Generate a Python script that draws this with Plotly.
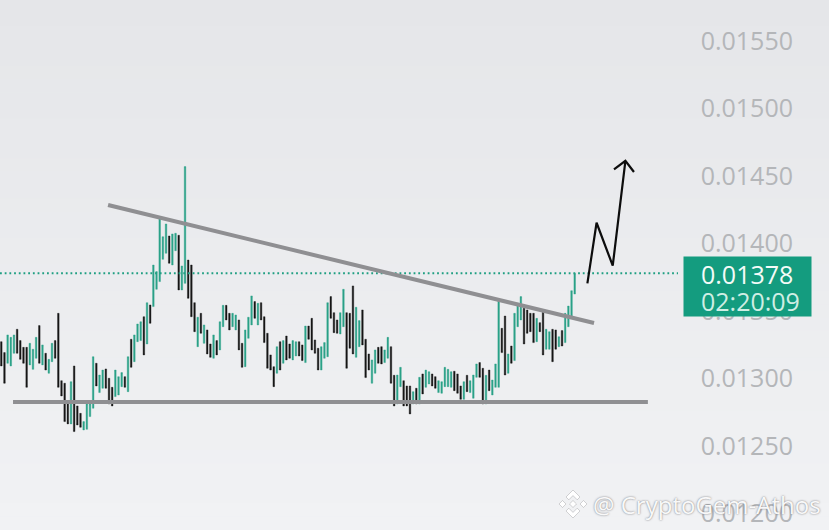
import plotly.graph_objects as go

# ==========================================
# 1. DATA (in millionths of a price unit)
# ==========================================

bar_high = [
    13273, 13192, 13323, 13305, 13323, 13365, 13281, 13231, 13231, 13261,
    13217, 13305, 13392, 13249, 13187, 13142, 13261, 13281, 13483, 12984,
    12965, 12836, 12977, 13093, 12797, 12742, 12681, 12812, 12812, 13162,
    13113, 13026, 13063, 13071, 13002, 12935, 13063, 13014, 13044, 13014,
    13162, 13291, 13323, 13404, 13421, 13458, 13562, 13545, 13841, 13792,
    14187, 14051, 14145, 14056, 14071, 14076, 14061, 13834, 14570, 13878,
    13841, 13562, 13454, 13483, 13397, 13360, 13256, 13323, 13281, 13421,
    13542, 13542, 13483, 13483, 13471, 13434, 13261, 13360, 13454, 13612,
    13570, 13557, 13562, 13458, 13335, 13175, 13088, 13236,
    13273, 13281, 13315, 13256, 13281, 13273, 13273, 13249, 13389, 13389,
    13446, 13286, 13224, 13236, 13266, 13562, 13607, 13488, 13434, 13488,
    13661, 13488, 13483, 13686, 13528, 13429, 13508, 13291, 13182, 13138,
    13212, 13231, 13236, 13212, 13305, 13236, 13024, 13026, 13083, 12984,
    12945, 12945, 12903, 12928, 13009, 13034, 13063, 13051, 13034, 13014,
    12984, 12977, 13083, 13068, 13051, 13054, 13034, 12945, 12977, 13024,
    12984, 13026, 13108, 13118, 13076, 13024, 13063, 12989, 13108, 13587,
    13372, 13463, 13182, 13241, 13483, 13557, 13607, 13520, 13508, 13483,
    13483, 13446, 13414, 13491, 13365, 13347, 13365, 13360, 13310,
    13355, 13483, 13537, 13651, 13780,
]
bar_low = [
    13093, 12965, 13113, 13093, 13187, 13187, 13142, 13113, 12935, 13101,
    13068, 13150, 13113, 13101, 13063, 13039, 13125, 13150, 12935, 12871,
    12681, 12664, 12664, 12607, 12656, 12639, 12619, 12624, 12718, 12780,
    12945, 12896, 12928, 12928, 12812, 12797, 12866, 12878, 12940, 12935,
    12903, 13083, 13125, 13273, 13281, 13175, 13256, 13409, 13533, 13661,
    13718, 13883, 13928, 13854, 13841, 13947, 13656, 13656, 13705, 13594,
    13458, 13347, 13236, 13335, 13261, 13182, 13157, 13150, 13175, 13212,
    13384, 13434, 13360, 13384, 13360, 13212, 13083, 13088, 13298, 13397,
    13446, 13397, 13434, 13266, 13076, 13063, 12940, 13039,
    13063, 13113, 13138, 13150, 13138, 13167, 13167, 13133, 13118, 13291,
    13212, 13187, 13063, 13063, 13150, 13162, 13446, 13340, 13335, 13330,
    13384, 13076, 13224, 13182, 13157, 13236, 13249, 13007, 13063, 12965,
    13039, 13113, 13108, 13118, 13150, 12965, 12797, 12812, 12940, 12797,
    12797, 12738, 12812, 12812, 12812, 12886, 12935, 12960, 12945, 12928,
    12896, 12891, 12940, 12940, 12935, 12910, 12891, 12846, 12846, 12903,
    12896, 12854, 13009, 13009, 12812, 12812, 12910, 12878, 12935, 12935,
    13192, 13026, 13039, 13113, 13133, 13384, 13434, 13256, 13335, 13347,
    13266, 13273, 13347, 13175, 13217, 13217, 13125, 13217, 13236,
    13241, 13266, 13384, 13446, 13626,
]
# 1 = green bar, 0 = black bar
bar_up = [
    0, 0, 1, 1, 1, 0, 0, 0, 0, 1,
    1, 1, 0, 1, 0, 1, 1, 0, 0, 0,
    0, 0, 1, 0, 0, 0, 1, 1, 1, 1,
    0, 1, 1, 0, 0, 0, 1, 1, 1, 0,
    1, 0, 1, 1, 1, 0, 1, 0, 1, 1,
    1, 1, 1, 0, 1, 1, 0, 1, 1, 0,
    0, 0, 1, 0, 1, 0, 0, 1, 0, 1,
    1, 0, 0, 1, 1, 0, 0, 1, 1, 1,
    0, 1, 0, 0, 0, 0, 0, 1,
    0, 1, 0, 0, 1, 1, 0, 0, 1, 0,
    0, 0, 0, 1, 1, 1, 0, 0, 0, 1,
    1, 0, 0, 0, 1, 1, 0, 0, 0, 1,
    1, 0, 0, 1, 1, 0, 0, 1, 1, 0,
    0, 0, 1, 0, 1, 0, 1, 1, 0, 0,
    1, 1, 1, 1, 1, 0, 0, 0, 1, 0,
    1, 1, 1, 0, 0, 1, 0, 1, 1, 1,
    0, 0, 1, 0, 1, 1, 1, 0, 0, 0,
    0, 1, 0, 0, 1, 1, 0, 0, 1,
    0, 1, 1, 1, 1,
]

last_price = 0.01378
countdown = "02:20:09"
tick_vals = [0.0120, 0.0125, 0.0130, 0.0135, 0.0140, 0.0145, 0.0150, 0.0155]

# drawn on top of the chart by the author
trend_x = [33.7, 187.1]
trend_y = [0.014285, 0.013411]
support_x = [3.7, 204.1]
support_y = [0.012826, 0.012826]
arrow_x = [185.0, 187.9, 193.0, 197.0]
arrow_y = [0.013705, 0.014154, 0.013836, 0.014613]
head_x = [193.4, 197.0, 199.7]
head_y = [0.014550, 0.014613, 0.014530]

# ==========================================
# 2. STYLE
# ==========================================

W, H = 829, 530
RIGHT = 33
PLOT_W = W - RIGHT
GREEN = "#2ba188"
BLACK = "#161616"
GRAY = "#8f8f92"


def px_x(x):
    return x / PLOT_W


def px_y(y):
    return 1 - y / H


def blend(t):
    top = (229, 230, 233)
    bot = (241, 242, 244)
    return "rgb(%d,%d,%d)" % tuple(round(a + (b - a) * t) for a, b in zip(top, bot))


# background is a soft vertical gradient
shapes = []
BANDS = 40
for i in range(BANDS):
    shapes.append(dict(type="rect", xref="paper", yref="paper", layer="below",
                       x0=0, x1=px_x(W),
                       y0=px_y(H * (i + 1) / BANDS), y1=px_y(H * i / BANDS) + 0.001,
                       fillcolor=blend(i / (BANDS - 1)), line_width=0))

# logo next to the watermark
LOGO_X, LOGO_Y, R = 573, 504, 14


def logo_path(points):
    pts = [(px_x(LOGO_X + a * R), px_y(LOGO_Y + b * R)) for a, b in points]
    return "M" + " L".join("%.5f,%.5f" % p for p in pts) + " Z"


logo_parts = [
    [(0, -1), (0.5, -0.5), (0.3, -0.3), (0, -0.6), (-0.3, -0.3), (-0.5, -0.5)],
    [(0, 1), (0.5, 0.5), (0.3, 0.3), (0, 0.6), (-0.3, 0.3), (-0.5, 0.5)],
    [(-1, 0), (-0.75, -0.25), (-0.5, 0), (-0.75, 0.25)],
    [(1, 0), (0.75, -0.25), (0.5, 0), (0.75, 0.25)],
    [(0, -0.25), (0.25, 0), (0, 0.25), (-0.25, 0)],
]
for part in logo_parts:
    shapes.append(dict(type="path", xref="paper", yref="paper", path=logo_path(part),
                       fillcolor="rgba(255,255,255,0.95)",
                       line=dict(color="rgba(120,120,125,0.45)", width=0.7)))

# ==========================================
# 3. FIGURE
# ==========================================

x = list(range(len(bar_high)))
highs = [v / 1e6 for v in bar_high]
lows = [v / 1e6 for v in bar_low]
opens = [l if u else h for h, l, u in zip(highs, lows, bar_up)]
closes = [h if u else l for h, l, u in zip(highs, lows, bar_up)]

fig = go.Figure()

fig.add_scatter(x=[-0.41, 213.6], y=[last_price, last_price], mode="lines",
                line=dict(color="#1f9f82", width=2, dash="1.8px,2.9px"), hoverinfo="skip")

fig.add_candlestick(x=x, open=opens, high=highs, low=lows, close=closes, whiskerwidth=0,
                    increasing=dict(line=dict(color=GREEN, width=0.4), fillcolor=GREEN),
                    decreasing=dict(line=dict(color=BLACK, width=0.4), fillcolor=BLACK))

for lx, ly in [(trend_x, trend_y), (support_x, support_y)]:
    fig.add_scatter(x=lx, y=ly, mode="lines", line=dict(color=GRAY, width=4), hoverinfo="skip")

for lx, ly in [(arrow_x, arrow_y), (head_x, head_y)]:
    fig.add_scatter(x=lx, y=ly, mode="lines", line=dict(color="#0d0d0d", width=2.2), hoverinfo="skip")

# price tag: empty box first, then the two lines so their spacing can be set
fig.add_annotation(xref="paper", yref="paper", x=px_x(747.5), y=px_y(286.5),
                   xanchor="center", yanchor="middle", text=" ", showarrow=False,
                   width=125, height=57, bgcolor="#149c7f", font=dict(size=10))
fig.add_annotation(xref="paper", yref="paper", x=px_x(746.5), y=px_y(274),
                   xanchor="center", yanchor="middle", text=f"{last_price:.5f}", showarrow=False,
                   font=dict(family="Open Sans", size=25, color="#f4fbf8"))
fig.add_annotation(xref="paper", yref="paper", x=px_x(750), y=px_y(301),
                   xanchor="center", yanchor="middle", text=countdown, showarrow=False,
                   font=dict(family="Open Sans", size=25, color="#cfeee4"))

fig.add_annotation(xref="paper", yref="paper", x=px_x(591), y=px_y(504),
                   xanchor="left", yanchor="middle", text="@ CryptoGem-Athos", showarrow=False,
                   font=dict(family="Open Sans", size=24, color="rgba(255,255,255,0.95)",
                             shadow="0 0 2px rgba(90,90,95,0.9)"))

fig.update_layout(
    width=W, height=H, margin=dict(l=0, r=RIGHT, t=0, b=0),
    paper_bgcolor="#e8e9ec", plot_bgcolor="rgba(0,0,0,0)",
    showlegend=False, shapes=shapes,
    xaxis=dict(range=[-0.41, 250.85], visible=False, rangeslider=dict(visible=False),
               fixedrange=True),
    yaxis=dict(range=[0.011878, 0.015804], side="right", ticklabelposition="inside",
               tickvals=tick_vals, tickformat=".5f", showgrid=False, zeroline=False,
               showline=False, ticks="", fixedrange=True,
               tickfont=dict(family="Open Sans", size=25, color="#b4b6b9")),
)

fig.write_html("out.html", config={"displayModeBar": False},
               post_script="document.body.style.margin='0';document.body.style.overflow='hidden';")
